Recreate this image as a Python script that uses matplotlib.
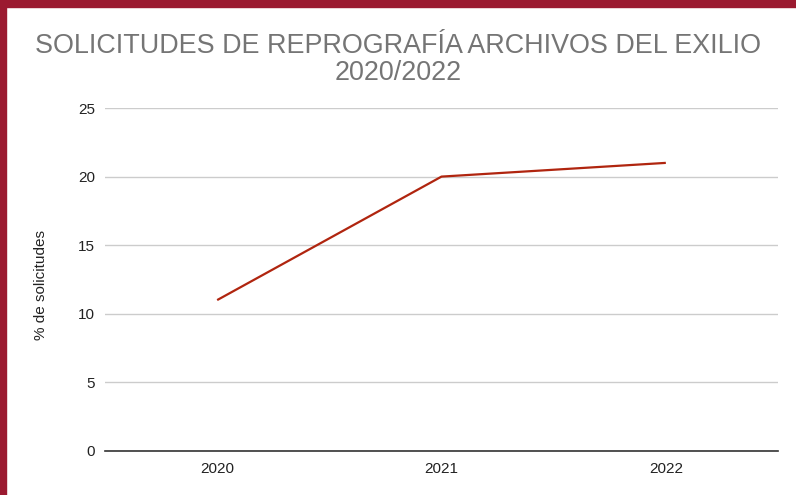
import matplotlib
matplotlib.use("Agg")
import matplotlib.pyplot as plt
from matplotlib.patches import Rectangle

years = ["2020", "2021", "2022"]
values = [11, 20, 21]
yticks = [0, 5, 10, 15, 20, 25]

plt.rcParams['font.family'] = ['Liberation Sans', 'DejaVu Sans']

fig = plt.figure(figsize=(7.96, 4.95), dpi=100)
ax = fig.add_axes([105/796, 1-451/495, (778-105)/796, (451-108)/495])

x = list(range(len(years)))
ax.plot(x, values, color="#B0250F", linewidth=1.6, solid_capstyle="butt")
ax.set_xlim(-0.5, len(years) - 0.5)
ax.set_ylim(0, 25)
ax.set_yticks(yticks)
ax.set_xticks(x)
ax.set_xticklabels(years)
ax.tick_params(axis="both", length=0, labelsize=11, labelcolor="#222222")
ax.tick_params(axis="y", pad=7)
ax.tick_params(axis="x", pad=8)
ax.grid(axis="y", color="#CCCCCC", linewidth=1)
ax.set_axisbelow(True)
for s in ["top", "right", "left"]:
    ax.spines[s].set_visible(False)
ax.spines["bottom"].set_color("#333333")
ax.spines["bottom"].set_linewidth(1.2)
ax.set_ylabel("% de solicitudes", fontsize=11, color="#222222")
ax.yaxis.set_label_coords(-57/673, 0.485)

fig.text(0.5, 1-46/495, "SOLICITUDES DE REPROGRAFÍA ARCHIVOS DEL EXILIO",
         ha="center", va="center", fontsize=19.4, color="#757575")
fig.text(0.5, 1-73/495, "2020/2022", ha="center", va="center", fontsize=19.4, color="#757575")

border = "#9B1A30"
fig.add_artist(Rectangle((0, 0), 6/796, 1, transform=fig.transFigure, color=border, zorder=10))
fig.add_artist(Rectangle((0, 1-7/495), 1, 7/495, transform=fig.transFigure, color=border, zorder=10))

fig.savefig("out.png", dpi=100)
